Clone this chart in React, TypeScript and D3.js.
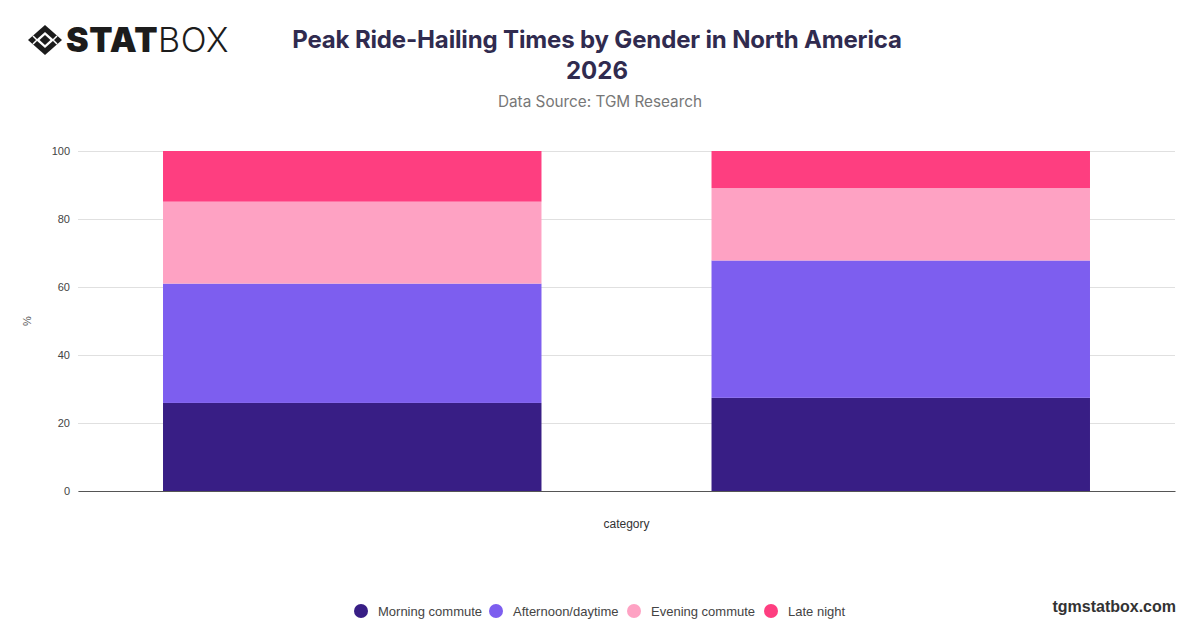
import { useEffect, useRef } from 'react';
import * as d3 from 'd3';

const categories = ['Male', 'Female'];
const seriesNames = ['Morning commute', 'Afternoon/daytime', 'Evening commute', 'Late night'];
const morning = [25.9, 27.4];
const afternoon = [35.1, 40.4];
const evening = [24.1, 21.3];
const lateNight = [14.9, 10.9];
const yTicks = [0, 20, 40, 60, 80, 100];
const colors = ['#381e85', '#7d5eef', '#fea2c3', '#fe3e80'];

const App = () => {
  const svgRef = useRef<SVGSVGElement>(null);

  useEffect(() => {
    if (!svgRef.current) return;
    const svg = d3.select(svgRef.current);
    svg.selectAll('*').remove();

    const width = 1200;
    const height = 628;
    const margin = { top: 151, right: 25, bottom: 137, left: 78 };
    const font = 'Inter, "Noto Sans", sans-serif';
    const plain = '"Liberation Sans", Arial, sans-serif';

    svg.attr('width', width).attr('height', height).style('font-family', font);
    svg.append('rect').attr('width', width).attr('height', height).attr('fill', '#fff');

    // Logo
    const logo = svg.append('g').attr('transform', 'translate(45,40)');
    logo.append('path')
      .attr('d', 'M0,-15 L17,0 L0,15 L-17,0 Z')
      .attr('fill', '#1c1c1c');
    logo.append('path')
      .attr('d', 'M0,-8 L9,0 L0,8 L-9,0 Z')
      .attr('fill', '#fff');
    logo.append('path')
      .attr('d', 'M0,-5 L5.5,0 L0,5 L-5.5,0 Z')
      .attr('fill', '#1c1c1c');
    logo.append('path')
      .attr('d', 'M-12,-4 L-8,0 M12,-4 L8,0 M-12,4 L-8,0 M12,4 L8,0')
      .attr('stroke', '#fff')
      .attr('stroke-width', 1.5);
    const logoText = svg.append('text')
      .attr('x', 66)
      .attr('y', 52)
      .attr('font-size', 34)
      .attr('fill', '#1c1c1c');
    logoText.append('tspan').attr('font-weight', 900).attr('letter-spacing', 0.5).text('STAT');
    logoText.append('tspan').attr('font-weight', 300).attr('letter-spacing', 0.5).text('BOX');

    // Title
    svg.append('text')
      .attr('x', 597)
      .attr('y', 48)
      .attr('text-anchor', 'middle')
      .attr('font-size', 24)
      .attr('font-weight', 700)
      .attr('letter-spacing', -0.15)
      .attr('fill', '#302b4f')
      .text('Peak Ride-Hailing Times by Gender in North America');
    svg.append('text')
      .attr('x', 597)
      .attr('y', 79)
      .attr('text-anchor', 'middle')
      .attr('font-size', 24)
      .attr('font-weight', 700)
      .attr('fill', '#302b4f')
      .text('2026');
    svg.append('text')
      .attr('x', 600)
      .attr('y', 107)
      .attr('text-anchor', 'middle')
      .attr('font-size', 15.3)
      .attr('fill', '#777')
      .text('Data Source: TGM Research');

    const chartWidth = width - margin.left - margin.right;
    const chartHeight = height - margin.top - margin.bottom;
    const g = svg.append('g').attr('transform', `translate(${margin.left},${margin.top})`);

    const x = d3.scaleBand()
      .domain(categories)
      .range([0, chartWidth])
      .paddingInner(0.31)
      .paddingOuter(0.155);

    const y = d3.scaleLinear().domain([0, 100]).range([chartHeight, 0]);

    // Grid + y axis
    const yAxis = g.append('g')
      .call(d3.axisLeft(y).tickValues(yTicks).tickSize(-chartWidth).tickPadding(8));
    yAxis.select('.domain').remove();
    yAxis.selectAll('.tick line').attr('stroke', '#e0e0e0');
    yAxis.selectAll('.tick text')
      .attr('font-size', 11)
      .attr('fill', '#444')
      .attr('font-family', plain);

    const table = categories.map((c, i) => ({
      category: c,
      [seriesNames[0]]: morning[i],
      [seriesNames[1]]: afternoon[i],
      [seriesNames[2]]: evening[i],
      [seriesNames[3]]: lateNight[i],
    }));
    const stacked = d3.stack<any>().keys(seriesNames)(table);

    g.selectAll('.layer')
      .data(stacked)
      .enter()
      .append('g')
      .attr('fill', (_d, i) => colors[i])
      .selectAll('rect')
      .data(d => d)
      .enter()
      .append('rect')
      .attr('x', d => x(d.data.category) || 0)
      .attr('y', d => y(d[1]))
      .attr('width', x.bandwidth())
      .attr('height', d => y(d[0]) - y(d[1]));

    // x axis line
    const xAxis = g.append('g')
      .attr('transform', `translate(0,${chartHeight})`)
      .call(d3.axisBottom(x).tickSize(0).tickFormat(() => ''));
    xAxis.select('.domain').attr('stroke', '#555').attr('stroke-width', 1.2);

    svg.append('text')
      .attr('x', margin.left + chartWidth / 2)
      .attr('y', 528)
      .attr('text-anchor', 'middle')
      .attr('font-size', 12)
      .attr('font-family', plain)
      .attr('fill', '#333')
      .text('category');

    svg.append('text')
      .attr('transform', `translate(31,${margin.top + chartHeight / 2}) rotate(-90)`)
      .attr('text-anchor', 'middle')
      .attr('font-size', 11)
      .attr('font-family', plain)
      .attr('fill', '#555')
      .text('%');

    // Legend
    const legendX = [361, 496, 634, 771];
    const legend = svg.append('g').attr('font-family', plain);
    seriesNames.forEach((name, i) => {
      legend.append('circle')
        .attr('cx', legendX[i])
        .attr('cy', 611)
        .attr('r', 7)
        .attr('fill', colors[i]);
      legend.append('text')
        .attr('x', legendX[i] + 17)
        .attr('y', 616)
        .attr('font-size', 13)
        .attr('fill', '#444')
        .text(name);
    });

    svg.append('text')
      .attr('x', 1176)
      .attr('y', 612)
      .attr('text-anchor', 'end')
      .attr('font-size', 16)
      .attr('font-weight', 700)
      .attr('font-family', plain)
      .attr('fill', '#333')
      .text('tgmstatbox.com');
  }, []);

  return <svg ref={svgRef} style={{ position: 'absolute', left: 0, top: 0 }} />;
};

export default App;
